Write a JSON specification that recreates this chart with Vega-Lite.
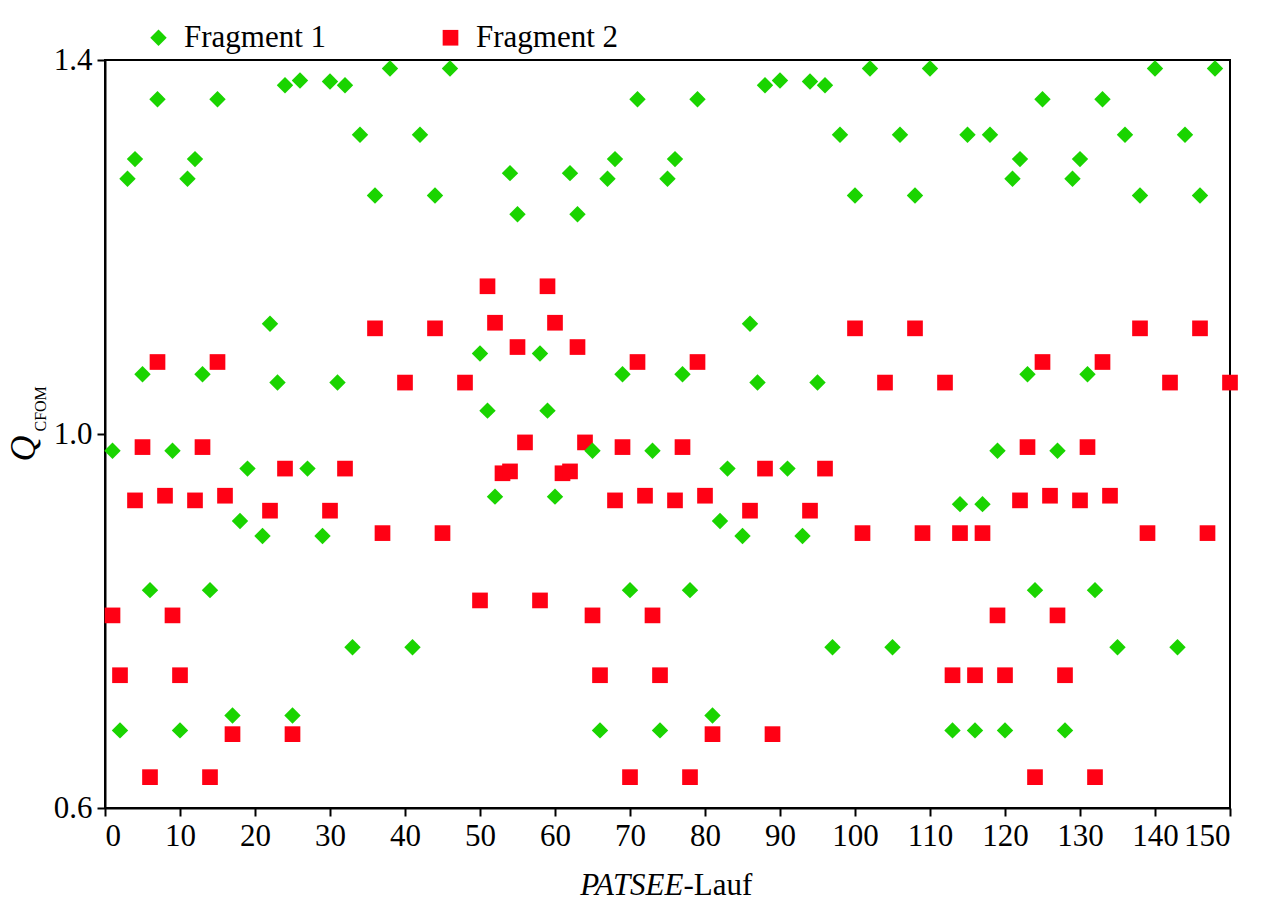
{
  "$schema": "https://vega.github.io/schema/vega-lite/v6.json",
  "width": 1125,
  "height": 748,
  "autosize": {"type": "none"},
  "padding": {"left": 105, "top": 60, "right": 45, "bottom": 98},
  "background": "white",
  "config": {
    "font": "Times New Roman, Liberation Serif, DejaVu Serif, serif",
    "view": {"stroke": "black", "strokeWidth": 2},
    "axis": {
      "grid": false,
      "domainColor": "black",
      "domainWidth": 2,
      "tickColor": "black",
      "tickWidth": 2,
      "tickSize": 8,
      "labelFont": "Times New Roman, Liberation Serif, DejaVu Serif, serif",
      "labelFontSize": 31,
      "labelColor": "black",
      "titleFont": "Times New Roman, Liberation Serif, DejaVu Serif, serif",
      "titleColor": "black",
      "titleFontWeight": "normal"
    },
    "legend": {
      "labelFont": "Times New Roman, Liberation Serif, DejaVu Serif, serif",
      "labelFontSize": 31,
      "labelColor": "black"
    }
  },
  "datasets": {
    "pts": [
      {"run":1,"frag":"Fragment 2","q":0.806},{"run":2,"frag":"Fragment 2","q":0.742},{"run":4,"frag":"Fragment 2","q":0.929},{"run":5,"frag":"Fragment 2","q":0.986},{"run":6,"frag":"Fragment 2","q":0.633},{"run":7,"frag":"Fragment 2","q":1.077},{"run":8,"frag":"Fragment 2","q":0.934},{"run":9,"frag":"Fragment 2","q":0.806},{"run":10,"frag":"Fragment 2","q":0.742},{"run":12,"frag":"Fragment 2","q":0.929},{"run":13,"frag":"Fragment 2","q":0.986},{"run":14,"frag":"Fragment 2","q":0.633},{"run":15,"frag":"Fragment 2","q":1.077},{"run":16,"frag":"Fragment 2","q":0.934},{"run":17,"frag":"Fragment 2","q":0.679},{"run":22,"frag":"Fragment 2","q":0.918},{"run":24,"frag":"Fragment 2","q":0.963},{"run":25,"frag":"Fragment 2","q":0.679},{"run":30,"frag":"Fragment 2","q":0.918},{"run":32,"frag":"Fragment 2","q":0.963},{"run":36,"frag":"Fragment 2","q":1.113},{"run":37,"frag":"Fragment 2","q":0.894},{"run":40,"frag":"Fragment 2","q":1.055},{"run":44,"frag":"Fragment 2","q":1.113},{"run":45,"frag":"Fragment 2","q":0.894},{"run":48,"frag":"Fragment 2","q":1.055},{"run":50,"frag":"Fragment 2","q":0.822},{"run":51,"frag":"Fragment 2","q":1.158},{"run":52,"frag":"Fragment 2","q":1.119},{"run":53,"frag":"Fragment 2","q":0.958},{"run":54,"frag":"Fragment 2","q":0.96},{"run":55,"frag":"Fragment 2","q":1.093},{"run":56,"frag":"Fragment 2","q":0.991},{"run":58,"frag":"Fragment 2","q":0.822},{"run":59,"frag":"Fragment 2","q":1.158},{"run":60,"frag":"Fragment 2","q":1.119},{"run":61,"frag":"Fragment 2","q":0.958},{"run":62,"frag":"Fragment 2","q":0.96},{"run":63,"frag":"Fragment 2","q":1.093},{"run":64,"frag":"Fragment 2","q":0.991},{"run":65,"frag":"Fragment 2","q":0.806},{"run":66,"frag":"Fragment 2","q":0.742},{"run":68,"frag":"Fragment 2","q":0.929},{"run":69,"frag":"Fragment 2","q":0.986},{"run":70,"frag":"Fragment 2","q":0.633},{"run":71,"frag":"Fragment 2","q":1.077},{"run":72,"frag":"Fragment 2","q":0.934},{"run":73,"frag":"Fragment 2","q":0.806},{"run":74,"frag":"Fragment 2","q":0.742},{"run":76,"frag":"Fragment 2","q":0.929},{"run":77,"frag":"Fragment 2","q":0.986},{"run":78,"frag":"Fragment 2","q":0.633},{"run":79,"frag":"Fragment 2","q":1.077},{"run":80,"frag":"Fragment 2","q":0.934},{"run":81,"frag":"Fragment 2","q":0.679},{"run":86,"frag":"Fragment 2","q":0.918},{"run":88,"frag":"Fragment 2","q":0.963},{"run":89,"frag":"Fragment 2","q":0.679},{"run":94,"frag":"Fragment 2","q":0.918},{"run":96,"frag":"Fragment 2","q":0.963},{"run":100,"frag":"Fragment 2","q":1.113},{"run":101,"frag":"Fragment 2","q":0.894},{"run":104,"frag":"Fragment 2","q":1.055},{"run":108,"frag":"Fragment 2","q":1.113},{"run":109,"frag":"Fragment 2","q":0.894},{"run":112,"frag":"Fragment 2","q":1.055},{"run":113,"frag":"Fragment 2","q":0.742},{"run":114,"frag":"Fragment 2","q":0.894},{"run":116,"frag":"Fragment 2","q":0.742},{"run":117,"frag":"Fragment 2","q":0.894},{"run":119,"frag":"Fragment 2","q":0.806},{"run":120,"frag":"Fragment 2","q":0.742},{"run":122,"frag":"Fragment 2","q":0.929},{"run":123,"frag":"Fragment 2","q":0.986},{"run":124,"frag":"Fragment 2","q":0.633},{"run":125,"frag":"Fragment 2","q":1.077},{"run":126,"frag":"Fragment 2","q":0.934},{"run":127,"frag":"Fragment 2","q":0.806},{"run":128,"frag":"Fragment 2","q":0.742},{"run":130,"frag":"Fragment 2","q":0.929},{"run":131,"frag":"Fragment 2","q":0.986},{"run":132,"frag":"Fragment 2","q":0.633},{"run":133,"frag":"Fragment 2","q":1.077},{"run":134,"frag":"Fragment 2","q":0.934},{"run":138,"frag":"Fragment 2","q":1.113},{"run":139,"frag":"Fragment 2","q":0.894},{"run":142,"frag":"Fragment 2","q":1.055},{"run":146,"frag":"Fragment 2","q":1.113},{"run":147,"frag":"Fragment 2","q":0.894},{"run":150,"frag":"Fragment 2","q":1.055},
      {"run":1,"frag":"Fragment 1","q":0.982},{"run":2,"frag":"Fragment 1","q":0.683},{"run":3,"frag":"Fragment 1","q":1.273},{"run":4,"frag":"Fragment 1","q":1.294},{"run":5,"frag":"Fragment 1","q":1.064},{"run":6,"frag":"Fragment 1","q":0.833},{"run":7,"frag":"Fragment 1","q":1.358},{"run":9,"frag":"Fragment 1","q":0.982},{"run":10,"frag":"Fragment 1","q":0.683},{"run":11,"frag":"Fragment 1","q":1.273},{"run":12,"frag":"Fragment 1","q":1.294},{"run":13,"frag":"Fragment 1","q":1.064},{"run":14,"frag":"Fragment 1","q":0.833},{"run":15,"frag":"Fragment 1","q":1.358},{"run":17,"frag":"Fragment 1","q":0.699},{"run":18,"frag":"Fragment 1","q":0.907},{"run":19,"frag":"Fragment 1","q":0.963},{"run":21,"frag":"Fragment 1","q":0.891},{"run":22,"frag":"Fragment 1","q":1.118},{"run":23,"frag":"Fragment 1","q":1.055},{"run":24,"frag":"Fragment 1","q":1.373},{"run":25,"frag":"Fragment 1","q":0.699},{"run":26,"frag":"Fragment 1","q":1.378},{"run":27,"frag":"Fragment 1","q":0.963},{"run":29,"frag":"Fragment 1","q":0.891},{"run":30,"frag":"Fragment 1","q":1.377},{"run":31,"frag":"Fragment 1","q":1.055},{"run":32,"frag":"Fragment 1","q":1.373},{"run":33,"frag":"Fragment 1","q":0.772},{"run":34,"frag":"Fragment 1","q":1.32},{"run":36,"frag":"Fragment 1","q":1.255},{"run":38,"frag":"Fragment 1","q":1.391},{"run":41,"frag":"Fragment 1","q":0.772},{"run":42,"frag":"Fragment 1","q":1.32},{"run":44,"frag":"Fragment 1","q":1.255},{"run":46,"frag":"Fragment 1","q":1.391},{"run":50,"frag":"Fragment 1","q":1.086},{"run":51,"frag":"Fragment 1","q":1.025},{"run":52,"frag":"Fragment 1","q":0.933},{"run":54,"frag":"Fragment 1","q":1.279},{"run":55,"frag":"Fragment 1","q":1.235},{"run":58,"frag":"Fragment 1","q":1.086},{"run":59,"frag":"Fragment 1","q":1.025},{"run":60,"frag":"Fragment 1","q":0.933},{"run":62,"frag":"Fragment 1","q":1.279},{"run":63,"frag":"Fragment 1","q":1.235},{"run":65,"frag":"Fragment 1","q":0.982},{"run":66,"frag":"Fragment 1","q":0.683},{"run":67,"frag":"Fragment 1","q":1.273},{"run":68,"frag":"Fragment 1","q":1.294},{"run":69,"frag":"Fragment 1","q":1.064},{"run":70,"frag":"Fragment 1","q":0.833},{"run":71,"frag":"Fragment 1","q":1.358},{"run":73,"frag":"Fragment 1","q":0.982},{"run":74,"frag":"Fragment 1","q":0.683},{"run":75,"frag":"Fragment 1","q":1.273},{"run":76,"frag":"Fragment 1","q":1.294},{"run":77,"frag":"Fragment 1","q":1.064},{"run":78,"frag":"Fragment 1","q":0.833},{"run":79,"frag":"Fragment 1","q":1.358},{"run":81,"frag":"Fragment 1","q":0.699},{"run":82,"frag":"Fragment 1","q":0.907},{"run":83,"frag":"Fragment 1","q":0.963},{"run":85,"frag":"Fragment 1","q":0.891},{"run":86,"frag":"Fragment 1","q":1.118},{"run":87,"frag":"Fragment 1","q":1.055},{"run":88,"frag":"Fragment 1","q":1.373},{"run":90,"frag":"Fragment 1","q":1.378},{"run":91,"frag":"Fragment 1","q":0.963},{"run":93,"frag":"Fragment 1","q":0.891},{"run":94,"frag":"Fragment 1","q":1.377},{"run":95,"frag":"Fragment 1","q":1.055},{"run":96,"frag":"Fragment 1","q":1.373},{"run":97,"frag":"Fragment 1","q":0.772},{"run":98,"frag":"Fragment 1","q":1.32},{"run":100,"frag":"Fragment 1","q":1.255},{"run":102,"frag":"Fragment 1","q":1.391},{"run":105,"frag":"Fragment 1","q":0.772},{"run":106,"frag":"Fragment 1","q":1.32},{"run":108,"frag":"Fragment 1","q":1.255},{"run":110,"frag":"Fragment 1","q":1.391},{"run":113,"frag":"Fragment 1","q":0.683},{"run":114,"frag":"Fragment 1","q":0.925},{"run":115,"frag":"Fragment 1","q":1.32},{"run":116,"frag":"Fragment 1","q":0.683},{"run":117,"frag":"Fragment 1","q":0.925},{"run":118,"frag":"Fragment 1","q":1.32},{"run":119,"frag":"Fragment 1","q":0.982},{"run":120,"frag":"Fragment 1","q":0.683},{"run":121,"frag":"Fragment 1","q":1.273},{"run":122,"frag":"Fragment 1","q":1.294},{"run":123,"frag":"Fragment 1","q":1.064},{"run":124,"frag":"Fragment 1","q":0.833},{"run":125,"frag":"Fragment 1","q":1.358},{"run":127,"frag":"Fragment 1","q":0.982},{"run":128,"frag":"Fragment 1","q":0.683},{"run":129,"frag":"Fragment 1","q":1.273},{"run":130,"frag":"Fragment 1","q":1.294},{"run":131,"frag":"Fragment 1","q":1.064},{"run":132,"frag":"Fragment 1","q":0.833},{"run":133,"frag":"Fragment 1","q":1.358},{"run":135,"frag":"Fragment 1","q":0.772},{"run":136,"frag":"Fragment 1","q":1.32},{"run":138,"frag":"Fragment 1","q":1.255},{"run":140,"frag":"Fragment 1","q":1.391},{"run":143,"frag":"Fragment 1","q":0.772},{"run":144,"frag":"Fragment 1","q":1.32},{"run":146,"frag":"Fragment 1","q":1.255},{"run":148,"frag":"Fragment 1","q":1.391}
    ]
  },
  "layer": [
    {
      "data": {"name": "pts"},
      "mark": {"type": "point", "filled": true, "opacity": 1, "clip": false},
      "encoding": {
        "x": {
          "field": "run", "type": "quantitative",
          "scale": {"domain": [0, 150], "nice": false, "zero": false},
          "axis": {
            "orient": "bottom",
            "values": [0,10,20,30,40,50,60,70,80,90,100,110,120,130,140,150],
            "labelPadding": 5,
            "title": "PATSEE",
            "titleFontStyle": "italic",
            "titleFontSize": 31,
            "titleAlign": "right",
            "titleBaseline": "alphabetic",
            "titleAnchor": null,
            "titleX": 578,
            "titleY": 86
          }
        },
        "y": {
          "field": "q", "type": "quantitative",
          "scale": {"domain": [0.6, 1.4], "nice": false, "zero": false},
          "axis": {
            "orient": "left",
            "values": [0.6, 1.0, 1.4],
            "format": ".1f",
            "labelPadding": 5,
            "title": "Q",
            "titleFontStyle": "italic",
            "titleFontSize": 36,
            "titleAngle": 270,
            "titleAlign": "left",
            "titleBaseline": "alphabetic",
            "titleAnchor": null,
            "titleX": -71,
            "titleY": 401
          }
        },
        "size": {
          "field": "frag", "type": "nominal",
          "scale": {"domain": ["Fragment 1", "Fragment 2"], "range": [270, 246]},
          "legend": null
        },
        "color": {
          "field": "frag", "type": "nominal",
          "scale": {"domain": ["Fragment 1", "Fragment 2"], "range": ["#1ad400", "#ff0014"]},
          "legend": {
            "title": null,
            "orient": "none",
            "direction": "horizontal",
            "legendX": 38,
            "legendY": -38,
            "columnPadding": 108,
            "symbolSize": 190,
            "labelOffset": 10,
            "symbolStrokeWidth": 0
          }
        },
        "shape": {
          "field": "frag", "type": "nominal",
          "scale": {"domain": ["Fragment 1", "Fragment 2"], "range": ["diamond", "square"]},
          "legend": null
        }
      }
    },
    {
      "mark": {"type": "rule", "color": "black", "strokeWidth": 2},
      "encoding": {
        "y": {
          "datum": 1.0, "type": "quantitative",
          "axis": {
            "orient": "left",
            "labels": false, "ticks": false, "domain": false,
            "title": "CFOM",
            "titleFontSize": 16,
            "titleAngle": 270,
            "titleAlign": "left",
            "titleBaseline": "alphabetic",
            "titleAnchor": null,
            "titleX": -60,
            "titleY": 371
          }
        },
        "x": {
          "datum": 0, "type": "quantitative",
          "axis": {
            "orient": "bottom",
            "labels": false, "ticks": false, "domain": false,
            "title": "-Lauf",
            "titleFontSize": 31,
            "titleAlign": "left",
            "titleBaseline": "alphabetic",
            "titleAnchor": null,
            "titleX": 578,
            "titleY": 86
          }
        },
        "x2": {"datum": 150}
      }
    }
  ],
  "resolve": {"axis": {"x": "independent", "y": "independent"}}
}
